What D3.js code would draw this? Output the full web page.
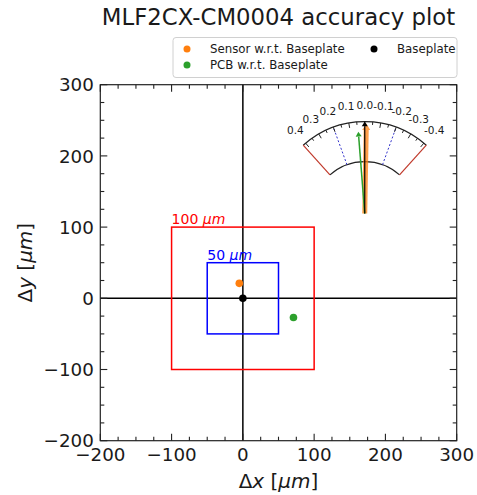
<!DOCTYPE html>
<html>
<head>
<meta charset="utf-8">
<script src="https://cdn.jsdelivr.net/npm/d3@7"></script>
<style>
  body { margin: 0; background: #fff; }
  text { font-family: "DejaVu Sans", sans-serif; fill: #1a1a1a; }
</style>
</head>
<body>
<div id="chart"></div>
<script>
// points (offsets in um)
const names = ["Sensor w.r.t. Baseplate", "PCB w.r.t. Baseplate", "Baseplate"];
const dx = [-5, 71, 0];
const dy = [21, -27, 0];
const colors = ["#ff7f0e", "#2ca02c", "#000000"];

// tolerance boxes
const tolerances = [100, 50];
const tolColors = ["#ff0000", "#0000ff"];
const tolLabels = ["100 μm", "50 μm"];

const xTicks = [-200, -100, 0, 100, 200, 300];
const yTicks = [-200, -100, 0, 100, 200, 300];

// rotation gauge inset
const gaugeLabels = [0.4, 0.3, 0.2, 0.1, 0.0, -0.1, -0.2, -0.3, -0.4];
const gaugeArrows = [-0.01, 0.045, 0.0]; // sensor, pcb, baseplate
const gaugeArrowLen = [90, 82, 92];
const gaugeLimit = 0.42;
const gaugeWarn = 0.2;

const W = 477, H = 495;
const pLeft = 100.3, pRight = 456.7, pTop = 84.7, pBottom = 440.7;

const svg = d3.select("#chart").append("svg")
    .attr("width", W).attr("height", H);

const x = d3.scaleLinear().domain([-200, 300]).range([pLeft, pRight]);
const y = d3.scaleLinear().domain([-200, 300]).range([pBottom, pTop]);

// title
svg.append("text")
    .attr("x", (pLeft + pRight) / 2).attr("y", 25)
    .attr("text-anchor", "middle")
    .attr("font-size", 22.8)
    .text("MLF2CX-CM0004 accuracy plot");

const plot = svg.append("g");

// zero lines
plot.append("line")
    .attr("x1", x(0)).attr("x2", x(0)).attr("y1", pTop).attr("y2", pBottom)
    .attr("stroke", "#000").attr("stroke-width", 1.5);
plot.append("line")
    .attr("x1", pLeft).attr("x2", pRight).attr("y1", y(0)).attr("y2", y(0))
    .attr("stroke", "#000").attr("stroke-width", 1.5);

// tolerance squares
tolerances.forEach((t, i) => {
    plot.append("rect")
        .attr("x", x(-t)).attr("y", y(t))
        .attr("width", x(t) - x(-t)).attr("height", y(-t) - y(t))
        .attr("fill", "none")
        .attr("stroke", tolColors[i]).attr("stroke-width", 1.5);
    const lab = plot.append("text")
        .attr("x", x(-t)).attr("y", y(t) - 3)
        .attr("font-size", 14)
        .style("fill", tolColors[i]);
    const parts = tolLabels[i].split(" ");
    lab.append("tspan").text(parts[0] + " ");
    lab.append("tspan").attr("font-style", "italic").text(parts[1]);
});

// points
names.forEach((n, i) => {
    plot.append("circle")
        .attr("cx", x(dx[i])).attr("cy", y(dy[i]))
        .attr("r", 3.8)
        .attr("fill", colors[i]);
});

// gauge
const gx = x(171), gy = y(119);
const rOut = 92, rIn = 52, rLab = 108;
const ang = d3.scaleLinear().domain([gaugeLimit, -gaugeLimit])
    .range([-gaugeLimit * 100, gaugeLimit * 100]);
const pol = (v, r) => {
    const a = ang(v) * Math.PI / 180;
    return [gx + r * Math.sin(a), gy - r * Math.cos(a)];
};
const gauge = svg.append("g");
const arcGen = d3.arc()
    .startAngle(ang(gaugeLimit) * Math.PI / 180)
    .endAngle(ang(-gaugeLimit) * Math.PI / 180);
[rOut, rIn].forEach(r => {
    gauge.append("path")
        .attr("transform", `translate(${gx},${gy})`)
        .attr("d", arcGen.innerRadius(r).outerRadius(r)())
        .attr("fill", "none").attr("stroke", "#222").attr("stroke-width", 1.2);
});
[gaugeLimit, -gaugeLimit].forEach(v => {
    const a = pol(v, rIn), b = pol(v, rOut);
    gauge.append("line")
        .attr("x1", a[0]).attr("y1", a[1]).attr("x2", b[0]).attr("y2", b[1])
        .attr("stroke", "#c0392b").attr("stroke-width", 1.2);
});
[gaugeWarn, -gaugeWarn].forEach(v => {
    const a = pol(v, rIn), b = pol(v, rOut);
    gauge.append("line")
        .attr("x1", a[0]).attr("y1", a[1]).attr("x2", b[0]).attr("y2", b[1])
        .attr("stroke", "#3333cc").attr("stroke-width", 1)
        .attr("stroke-dasharray", "2,2");
});
d3.range(-8, 9).map(k => k * 0.05).forEach((v, k) => {
    const len = (k % 2 === 0) ? 5 : 3;
    const a = pol(v, rOut), b = pol(v, rOut - len);
    gauge.append("line")
        .attr("x1", a[0]).attr("y1", a[1]).attr("x2", b[0]).attr("y2", b[1])
        .attr("stroke", "#222").attr("stroke-width", 1);
});
gaugeLabels.forEach(v => {
    const p = pol(v, rLab);
    gauge.append("text")
        .attr("x", p[0]).attr("y", p[1])
        .attr("text-anchor", "middle").attr("dominant-baseline", "middle")
        .attr("font-size", 10.5)
        .text(v.toFixed(1));
});
// arrows: orange wide, then green, then black
const arrow = (v, len, color, w, head, op) => {
    const a = ang(v) * Math.PI / 180;
    const tip = pol(v, len), base = pol(v, len - head * 1.6);
    const nx = Math.cos(a), ny = Math.sin(a);
    gauge.append("line")
        .attr("x1", gx).attr("y1", gy).attr("x2", base[0]).attr("y2", base[1])
        .attr("stroke", color).attr("stroke-width", w).attr("opacity", op);
    gauge.append("path")
        .attr("d", `M${tip[0]},${tip[1]}L${base[0] + nx * head},${base[1] + ny * head}L${base[0] - nx * head},${base[1] - ny * head}Z`)
        .attr("fill", color).attr("opacity", op);
};
arrow(gaugeArrows[0], gaugeArrowLen[0], colors[0], 5, 4, 0.75);
arrow(gaugeArrows[1], gaugeArrowLen[1], colors[1], 1.5, 3, 1);
arrow(gaugeArrows[2], gaugeArrowLen[2], colors[2], 1.2, 3, 1);

// frame and ticks
svg.append("rect")
    .attr("x", pLeft).attr("y", pTop).attr("width", pRight - pLeft).attr("height", pBottom - pTop)
    .attr("fill", "none").attr("stroke", "#222").attr("stroke-width", 1.2);

const xMinor = d3.range(-200, 301, 25);
const yMinor = d3.range(-200, 301, 25);
const tickG = svg.append("g").attr("stroke", "#222").attr("stroke-width", 1.1);
xMinor.forEach(v => {
    const len = (v % 100 === 0) ? 7 : 4;
    tickG.append("line").attr("x1", x(v)).attr("x2", x(v)).attr("y1", pBottom).attr("y2", pBottom - len);
    tickG.append("line").attr("x1", x(v)).attr("x2", x(v)).attr("y1", pTop).attr("y2", pTop + len);
});
yMinor.forEach(v => {
    const len = (v % 100 === 0) ? 7 : 4;
    tickG.append("line").attr("y1", y(v)).attr("y2", y(v)).attr("x1", pLeft).attr("x2", pLeft + len);
    tickG.append("line").attr("y1", y(v)).attr("y2", y(v)).attr("x1", pRight).attr("x2", pRight - len);
});
const fmt = v => (v < 0 ? "\u2212" + Math.abs(v) : String(v));
xTicks.forEach(v => {
    svg.append("text")
        .attr("x", x(v)).attr("y", pBottom + 20)
        .attr("text-anchor", "middle").attr("font-size", 18.3)
        .text(fmt(v));
});
yTicks.forEach(v => {
    svg.append("text")
        .attr("x", pLeft - 6.5).attr("y", y(v) + 6.7)
        .attr("text-anchor", "end").attr("font-size", 18.3)
        .text(fmt(v));
});

// axis labels
const xl = svg.append("text")
    .attr("x", (pLeft + pRight) / 2).attr("y", 488)
    .attr("text-anchor", "middle").attr("font-size", 20);
xl.append("tspan").text("Δ");
xl.append("tspan").attr("font-style", "italic").text("x");
xl.append("tspan").text(" [");
xl.append("tspan").attr("font-style", "italic").text("μm");
xl.append("tspan").text("]");
const yl = svg.append("text")
    .attr("transform", `translate(32,${(pTop + pBottom) / 2}) rotate(-90)`)
    .attr("text-anchor", "middle").attr("font-size", 20);
yl.append("tspan").text("Δ");
yl.append("tspan").attr("font-style", "italic").text("y");
yl.append("tspan").text(" [");
yl.append("tspan").attr("font-style", "italic").text("μm");
yl.append("tspan").text("]");

// legend
const leg = svg.append("g");
leg.append("rect")
    .attr("x", 173).attr("y", 37.5).attr("width", 284).attr("height", 40).attr("rx", 3)
    .attr("fill", "#fff").attr("fill-opacity", 0.8)
    .attr("stroke", "#d0d0d0").attr("stroke-width", 1);
const legPos = [[187, 49], [187, 65], [374, 49]];
names.forEach((n, i) => {
    leg.append("circle")
        .attr("cx", legPos[i][0]).attr("cy", legPos[i][1]).attr("r", 3.5)
        .attr("fill", colors[i]);
    leg.append("text")
        .attr("x", legPos[i][0] + 23).attr("y", legPos[i][1] + 4.2)
        .attr("font-size", 11.8)
        .text(n);
});
</script>
</body>
</html>
